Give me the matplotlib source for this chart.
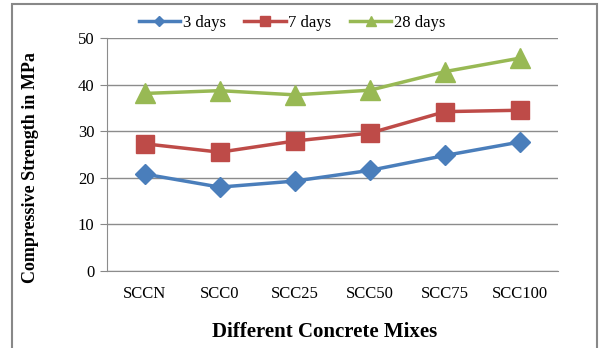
import numpy as np
import matplotlib.pyplot as plt
from matplotlib.patches import Rectangle

# данные
mixes = ["SCCN", "SCC0", "SCC25", "SCC50", "SCC75", "SCC100"]
days3 = [20.8, 18.0, 19.3, 21.6, 24.8, 27.7]
days7 = [27.3, 25.5, 27.9, 29.6, 34.2, 34.5]
days28 = [38.1, 38.7, 37.8, 38.8, 42.8, 45.7]

plt.rcParams['font.family'] = ['Liberation Serif', 'DejaVu Serif']

fig = plt.figure(figsize=[6.01, 3.48], dpi=100)
ax = fig.add_axes([107/601, 1 - 271/348, (558-107)/601, (271-38)/348])

x = np.arange(len(mixes))
ax.plot(x, days3, color="#4A7EBB", linewidth=2.5, marker="D", markersize=10, label="3 days")
ax.plot(x, days7, color="#BE4B48", linewidth=2.5, marker="s", markersize=12.5, label="7 days")
ax.plot(x, days28, color="#98B954", linewidth=2.5, marker="^", markersize=14, label="28 days")

ax.set(xlim=[-0.5, 5.5], ylim=[0, 50])
ax.set_yticks([0, 10, 20, 30, 40, 50])
ax.set_xticks(x)
ax.set_xticklabels(mixes)
ax.tick_params(axis="x", length=0, labelsize=12, pad=11)
ax.tick_params(axis="y", length=5, color="#888888", labelsize=12, pad=4)
ax.grid(True, axis="y", color="#8c8c8c", linewidth=1)
ax.set_axisbelow(True)
for s in ["top", "right"]:
    ax.spines[s].set_visible(False)
for s in ["left", "bottom"]:
    ax.spines[s].set_color("#8c8c8c")

ax.set_ylabel("Compressive Strength in MPa", fontsize=13, fontweight="bold")
ax.yaxis.set_label_coords((39 - 107)/451, 1 - (168 - 38)/233)
ax.set_xlabel("Different Concrete Mixes", fontsize=15, fontweight="bold")
ax.xaxis.set_label_coords((325 - 107)/451, -(322 - 271)/233)

ax.legend(loc="center", bbox_to_anchor=(292/601, 1 - 23/348), bbox_transform=fig.transFigure,
          ncol=3, frameon=False, fontsize=12, handlelength=2.5, handletextpad=0.15,
          columnspacing=1.1, markerscale=0.55)

# рамка
fig.patches.append(Rectangle((12/601, -0.1), (597-12)/601, 1 - 4/348 + 0.1,
                             transform=fig.transFigure, fill=False,
                             edgecolor="#888888", linewidth=1.5))

fig.savefig("out.png", dpi=100)
